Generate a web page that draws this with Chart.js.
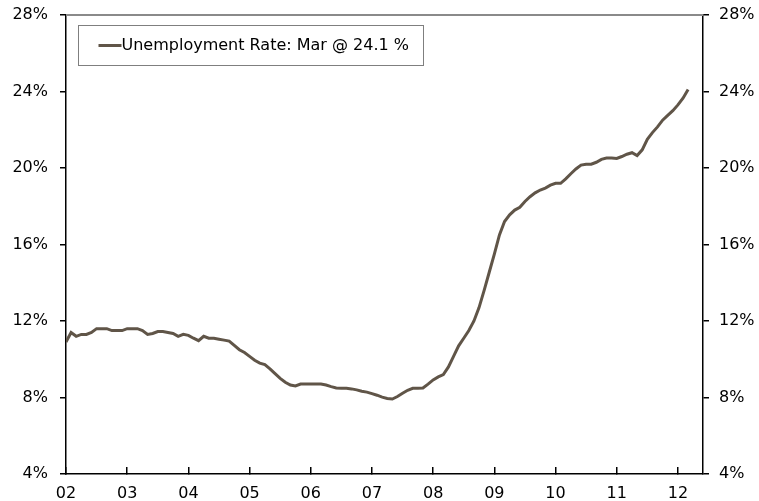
<!DOCTYPE html>
<html lang="en">
<head>
  <meta charset="UTF-8">
  <title>Unemployment Rate</title>
  <script src="https://cdn.jsdelivr.net/npm/chart.js"></script>
  <style>
    html, body { margin: 0; padding: 0; background: #fff; }
    #chart { display: block; }
  </style>
</head>
<body>
  <canvas id="chart" width="759" height="501"></canvas>

  <script>
    // Monthly unemployment rate (%), Jan 2002 .. Mar 2012
    const rates2002 = [10.9, 11.4, 11.2, 11.3, 11.3, 11.4, 11.6, 11.6, 11.6, 11.5, 11.5, 11.5];
    const rates2003 = [11.6, 11.6, 11.6, 11.5, 11.3, 11.35, 11.45, 11.45, 11.4, 11.35, 11.2, 11.3];
    const rates2004 = [11.25, 11.1, 10.97, 11.2, 11.1, 11.1, 11.05, 11.0, 10.95, 10.72, 10.5, 10.35];
    const rates2005 = [10.15, 9.95, 9.8, 9.72, 9.5, 9.25, 9.0, 8.8, 8.65, 8.6, 8.7, 8.7];
    const rates2006 = [8.7, 8.7, 8.7, 8.65, 8.57, 8.5, 8.48, 8.48, 8.45, 8.4, 8.33, 8.28];
    const rates2007 = [8.2, 8.12, 8.02, 7.95, 7.92, 8.05, 8.22, 8.38, 8.48, 8.48, 8.5, 8.7];
    const rates2008 = [8.92, 9.08, 9.2, 9.6, 10.15, 10.7, 11.1, 11.5, 12.0, 12.7, 13.6, 14.55];
    const rates2009 = [15.5, 16.5, 17.2, 17.55, 17.8, 17.95, 18.25, 18.5, 18.7, 18.85, 18.95, 19.1];
    const rates2010 = [19.2, 19.2, 19.43, 19.7, 19.95, 20.15, 20.2, 20.2, 20.3, 20.45, 20.52, 20.52];
    const rates2011 = [20.5, 20.6, 20.72, 20.8, 20.65, 20.95, 21.5, 21.85, 22.15, 22.5, 22.75, 23.0];
    const rates2012 = [23.3, 23.65, 24.1];

    const rates = [].concat(rates2002, rates2003, rates2004, rates2005, rates2006,
      rates2007, rates2008, rates2009, rates2010, rates2011, rates2012);

    const yearLabels = ['02', '03', '04', '05', '06', '07', '08', '09', '10', '11', '12'];
    const percentTicks = [4, 8, 12, 16, 20, 24, 28];
    const legendLabel = 'Unemployment Rate: Mar @ 24.1 %';

    const lineColor = '#605548';
    const tickFont = { family: 'DejaVu Sans', size: 16 };

    // legend box drawn inside the plot area, top-left
    const boxLegend = {
      id: 'boxLegend',
      afterDraw(chart) {
        const ctx = chart.ctx;
        const area = chart.chartArea;
        const ds = chart.data.datasets[0];
        const bx = area.left + 12.5, by = area.top + 10.5;
        ctx.save();
        ctx.fillStyle = '#fff';
        ctx.fillRect(bx, by, 345, 40);
        ctx.strokeStyle = '#7f7f7f';
        ctx.lineWidth = 1;
        ctx.strokeRect(bx, by, 345, 40);
        ctx.strokeStyle = ds.borderColor;
        ctx.lineWidth = 3;
        ctx.beginPath();
        ctx.moveTo(bx + 20, by + 20);
        ctx.lineTo(bx + 43, by + 20);
        ctx.stroke();
        ctx.fillStyle = '#000';
        ctx.font = '16px "DejaVu Sans"';
        ctx.textBaseline = 'middle';
        ctx.fillText(ds.label, bx + 43, by + 20);
        ctx.restore();
      }
    };

    // grey line closing the top of the plot
    const topBorder = {
      id: 'topBorder',
      afterDraw(chart) {
        const ctx = chart.ctx;
        const a = chart.chartArea;
        ctx.save();
        ctx.strokeStyle = '#8a8a8a';
        ctx.lineWidth = 2;
        ctx.beginPath();
        ctx.moveTo(a.left, a.top);
        ctx.lineTo(a.right, a.top);
        ctx.stroke();
        ctx.restore();
      }
    };

    function yAxis(position, width, pad) {
      return {
        position: position,
        min: 4,
        max: 28,
        afterBuildTicks: s => { s.ticks = percentTicks.map(v => ({ value: v })); },
        afterFit: s => { s.width = width; s.paddingTop = 0; s.paddingBottom = 0; },
        ticks: { callback: v => v + '%', font: tickFont, color: '#000', padding: pad },
        grid: { drawOnChartArea: false, tickLength: 6, color: '#000', lineWidth: 1.5 },
        border: { color: '#000', width: 1.5 }
      };
    }

    new Chart(document.getElementById('chart'), {
      type: 'line',
      data: {
        datasets: [{
          label: legendLabel,
          data: rates.map((v, i) => ({ x: i / 12, y: v })),
          borderColor: lineColor,
          borderWidth: 3,
          pointRadius: 0,
          tension: 0,
          yAxisID: 'y'
        }]
      },
      options: {
        responsive: false,
        animation: false,
        devicePixelRatio: 1,
        layout: { padding: { top: 15, left: 0, right: 0, bottom: 0 } },
        plugins: { legend: { display: false }, tooltip: { enabled: false } },
        scales: {
          x: {
            type: 'linear',
            min: 0,
            max: 10.41,
            afterBuildTicks: s => { s.ticks = yearLabels.map((_, i) => ({ value: i })); },
            afterFit: s => { s.height = 27; s.paddingLeft = 0; s.paddingRight = 0; },
            ticks: { callback: v => yearLabels[v], font: tickFont, color: '#000', padding: 17, maxRotation: 0, autoSkip: false },
            grid: { drawOnChartArea: false, tickLength: -7, color: '#000', lineWidth: 1.5 },
            border: { color: '#000', width: 1.5 }
          },
          y: yAxis('left', 66, 12),
          y2: yAxis('right', 56, 10)
        }
      },
      plugins: [topBorder, boxLegend]
    });
  </script>
</body>
</html>
